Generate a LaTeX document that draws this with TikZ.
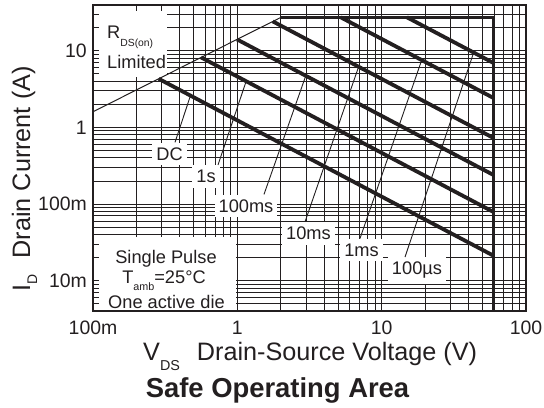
\documentclass[tikz,border=0pt]{standalone}
\usepackage{fontspec}
\setmainfont{Liberation Sans}
\usetikzlibrary{calc}
\definecolor{ink}{HTML}{231F20}
\begin{document}
\begin{tikzpicture}[x=1bp,y=-1bp,
  gridline/.style={line width=0.9bp, draw=ink},
  framebox/.style={line width=2bp, draw=ink},
  soa/.style={line width=3.8bp, draw=ink},
  limitline/.style={line width=3.6bp, draw=ink, line join=miter},
  rdsline/.style={line width=1bp, draw=ink},
  leader/.style={line width=0.9bp, draw=ink},
  lbl/.style={font=\fontsize{18.3}{20}\selectfont, text=ink, fill=white, inner xsep=4bp, inner ysep=5bp},
  txt/.style={font=\fontsize{18.3}{20}\selectfont, text=ink, inner sep=0pt},
  ticklbl/.style={font=\fontsize{19.5}{22}\selectfont, text=ink, inner sep=0pt},
  axtitle/.style={font=\fontsize{25.3}{28}\selectfont, text=ink, inner sep=0pt},
  whitebox/.style={fill=white, draw=none, inner sep=0pt}
]
\fill[white] (0,0) rectangle (544,407);
\useasboundingbox (0,0) rectangle (544,407);

% grid
\foreach \e in {-1,0,1}{\foreach \k in {1,...,9}{
  \pgfmathsetmacro\xx{93+144.33*(log10(\k)+\e+1)}
  \draw[gridline] (\xx,4.8) -- (\xx,311);}}
\foreach \e in {-3,...,1}{\foreach \k in {1,...,9}{
  \pgfmathsetmacro\yy{4.8+76.55*(1.60206-log10(\k)-\e)}
  \ifdim\yy pt<311.5pt\ifdim\yy pt>4.5pt \draw[gridline] (93,\yy) -- (526,\yy);\fi\fi}}

% white label areas
\node[whitebox, anchor=north west, minimum width=73bp, minimum height=71bp] (rdsbox) at (94,5.8) {};
\node[whitebox, anchor=south west, minimum width=142bp, minimum height=73bp] (spbox) at (94,310) {};

% ticks on left and top
\foreach \e in {-3,...,1}{\foreach \k in {1,...,9}{
  \pgfmathsetmacro\yy{4.8+76.55*(1.60206-log10(\k)-\e)}
  \ifdim\yy pt<311.5pt\ifdim\yy pt>4.5pt \draw[gridline] (93,\yy) -- (99,\yy);\fi\fi}}
\foreach \e in {-1,0,1}{\foreach \k in {1,...,9}{
  \pgfmathsetmacro\xx{93+144.33*(log10(\k)+\e+1)}
  \draw[gridline] (\xx,4.8) -- (\xx,11);}}

% SOA boundary
\coordinate (rdsA) at (93,111.75);
\coordinate (knee) at (281,17.3);
\coordinate (corner) at (493.5,17.3);
\coordinate (foot) at (493.5,311);
\draw[rdsline] (rdsA) -- (knee);
\draw[limitline] (knee) -- (corner) -- (foot);

% SOA curves
\coordinate (dcS) at (158.7,78.8);   \coordinate (dcE) at (493.5,255.7);
\coordinate (s1S) at (201.1,57.4);   \coordinate (s1E) at (493.5,212);
\coordinate (hmS) at (237.0,39.4);   \coordinate (hmE) at (493.5,175);
\coordinate (tmS) at (272.8,21.4);   \coordinate (tmE) at (493.5,138);
\coordinate (omS) at (340.7,17.3);   \coordinate (omE) at (493.5,98);
\coordinate (usS) at (406.9,17.3);   \coordinate (usE) at (493.5,63);
\draw[soa] (dcS) -- (dcE);
\draw[soa] (s1S) -- (s1E);
\draw[soa] (hmS) -- (hmE);
\draw[soa] (tmS) -- (tmE);
\draw[soa] (omS) -- (omE);
\draw[soa] (usS) -- (usE);

% curve labels
\node[lbl] (dc) at (169.5,154) {DC};
\node[lbl] (s1) at (206,176.5) {1s};
\node[lbl] (hm) at (246,206) {100ms};
\node[lbl] (tm) at (308.5,233.5) {10ms};
\node[lbl] (om) at (361.5,250) {1ms};
\node[lbl] (us) at (417,270.5) {100µs};

% leaders
\coordinate (dcT) at (190.5,95.5);
\coordinate (s1T) at (246.1,81.4);
\coordinate (hmT) at (305.8,75.7);
\coordinate (tmT) at (358.6,66.8);
\coordinate (omT) at (421.7,60.1);
\coordinate (usT) at (473.1,54.2);
\draw[leader] ($(dc.north)+(5.5,0)$) -- (dcT);
\draw[leader] ($(s1.north)+(12,0)$) -- (s1T);
\draw[leader] ($(hm.north)+(18,0)$) -- (hmT);
\draw[leader] ($(tm.north)+(-3.5,0)$) -- (tmT);
\draw[leader] ($(om.north)+(-1.5,0)$) -- (omT);
\draw[leader] ($(us.north)+(-12,0)$) -- (usT);

% R_DS(on) text
\node[txt, anchor=base west] (rdsT) at (107,38) {R\raisebox{-8bp}{\fontsize{10.4}{12}\selectfont DS(on)}};
\node[txt, anchor=base west] (rdsL) at (107,68) {Limited};

% single pulse text
\node[txt, anchor=base] (sp1) at (166,263) {Single Pulse};
\node[txt, anchor=base] (sp2) at (164,283.3) {T\raisebox{-7bp}{\fontsize{10.8}{12}\selectfont amb}=25°C};
\node[txt, anchor=base] (sp3) at (166.5,308.3) {One active die};

% frame
\draw[framebox] (93,4.8) rectangle (526,311);

% tick labels
\node[ticklbl, anchor=east] (y10) at (87,50.9) {10};
\node[ticklbl, anchor=east] (y1) at (87,127.4) {1};
\node[ticklbl, anchor=east] (y100m) at (87,204) {100m};
\node[ticklbl, anchor=east] (y10m) at (87,280.5) {10m};
\node[ticklbl, anchor=base] (x100m) at (93,334) {100m};
\node[ticklbl, anchor=base] (x1) at (237.3,334) {1};
\node[ticklbl, anchor=base] (x10) at (381.7,334) {10};
\node[ticklbl, anchor=base] (x100) at (526,334) {100};

% axis titles
\node[axtitle, anchor=base west] (xt) at (143,360) {V\raisebox{-10bp}{\fontsize{14.4}{16}\selectfont DS}\hspace{17bp}Drain-Source Voltage (V)};
\node[axtitle, anchor=base west, rotate=90] (yt) at (30,291.5) {I\raisebox{-7bp}{\fontsize{14}{16}\selectfont D}\hspace{16bp}Drain Current (A)};
\node[font=\fontsize{27.5}{30}\selectfont\bfseries, text=ink, inner sep=0pt, anchor=base] (title) at (277.5,397) {Safe Operating Area};
\end{tikzpicture}
\end{document}
